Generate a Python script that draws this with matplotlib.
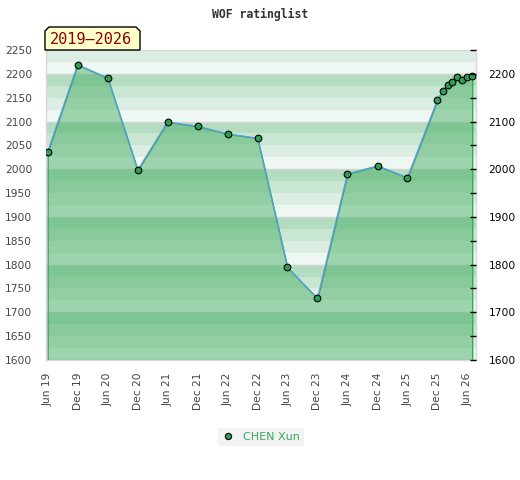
import matplotlib
matplotlib.use('Agg')
import matplotlib.pyplot as plt
import matplotlib.dates as mdates
from matplotlib.patches import Polygon
import numpy as np

# rating list dates and values
dates = ['2019-06-01', '2019-12-01', '2020-06-01', '2020-12-01', '2021-06-01',
         '2021-12-01', '2022-06-01', '2022-12-01', '2023-06-01', '2023-12-01',
         '2024-06-01', '2024-12-01', '2025-06-01', '2025-12-01', '2026-01-01',
         '2026-02-01', '2026-03-01', '2026-04-01', '2026-05-01', '2026-06-01',
         '2026-07-01']
ratings = [2036, 2219, 2191, 1998, 2099, 2090, 2074, 2065, 1794, 1729,
           1990, 2007, 1982, 2145, 2164, 2176, 2182, 2194, 2187, 2194, 2196]
player = 'CHEN Xun'
period = '2019\u20132026'
title = 'WOF ratinglist'

x = np.array(dates, dtype='datetime64[D]')
y = np.array(ratings)

ymin, ymax = 1600, 2250
W, H = 520, 480

fig = plt.figure(figsize=(W / 100, H / 100), dpi=100)
ax = fig.add_axes([46 / W, 1 - 360 / H, 430 / W, 310 / H])

# striped background, 25 point bands, darkest at top of each hundred
band_cols = {0: '#eff7f2', 25: '#dcede3', 50: '#c8e6d2', 75: '#b3dcc1'}
for lo in range(ymin, ymax, 25):
    ax.axhspan(lo, lo + 25, color=band_cols[lo % 100], lw=0, zorder=0)
for h in range(ymin, ymax + 1, 100):
    ax.axhline(h, color='#d4d4d4', lw=1, zorder=0.5)

green = '#3aa85a'
ax.fill_between(x, y, ymin, facecolor=(60 / 255, 170 / 255, 90 / 255, 0.45),
                edgecolor=green, lw=1.0, zorder=1)
ax.plot(x, y, color='#5a9fd8', lw=1.0, zorder=2)
ax.plot(x, y, 'o', ms=4.8, mfc='#2f9e52', mec='black', mew=0.8, zorder=3)

ax.set_ylim(ymin, ymax)
ax.set_xlim(np.datetime64('2019-05-22'), np.datetime64('2026-07-24'))
ax.set_yticks(range(ymin, ymax + 1, 50))
ax.tick_params(axis='y', length=0, pad=10, labelsize=7.7, labelcolor='#444444')

ax.xaxis.set_major_locator(mdates.MonthLocator(bymonth=[6, 12]))
ax.xaxis.set_major_formatter(mdates.DateFormatter('%b %y'))
ax.tick_params(axis='x', length=0, pad=9, labelsize=7.7, labelcolor='#444444',
               labelrotation=90)

for s in ax.spines.values():
    s.set_color('#d8d8d8')
    s.set_linewidth(1)

ax2 = ax.twinx()
ax2.set_ylim(ymin, ymax)
ax2.set_yticks(range(ymin, 2201, 100))
ax2.set_yticks(range(1650, ymax + 1, 100), minor=True)
ax2.tick_params(axis='y', which='both', direction='in', length=4, width=1,
                color='black', pad=9, labelsize=7.7, labelcolor='black')
for s in ax2.spines.values():
    s.set_visible(False)

# period label box with clipped top corners
pts = [(45, 50), (45, 31), (49, 27), (136, 27), (140, 31), (140, 50)]
box = Polygon([(px / W, 1 - py / H) for px, py in pts], closed=True,
              facecolor='#ffffcc', edgecolor='black', lw=1,
              transform=fig.transFigure, zorder=5)
fig.patches.append(box)
fig.text(91 / W, 1 - 39.5 / H, period, ha='center', va='center',
         family='DejaVu Sans Mono', fontsize=11, color='#8b0000', zorder=6)

fig.text(0.5, 1 - 14 / H, title, ha='center', va='center',
         family='DejaVu Sans Mono', fontweight='bold', fontsize=8.3,
         color='#333333')

h = plt.Line2D([], [], ls='none', marker='o', ms=4.5, mfc='#2f9e52',
               mec='black', mew=0.8)
leg = fig.legend([h], [player], loc='center', bbox_to_anchor=(261 / W, 1 - 437 / H),
                 frameon=True, fancybox=False, fontsize=8, labelcolor=green,
                 handlelength=1, handletextpad=0.8, borderpad=0.4)
leg.get_frame().set_facecolor('#f0f0f0')
leg.get_frame().set_edgecolor('none')

fig.savefig('out.png', dpi=100)
